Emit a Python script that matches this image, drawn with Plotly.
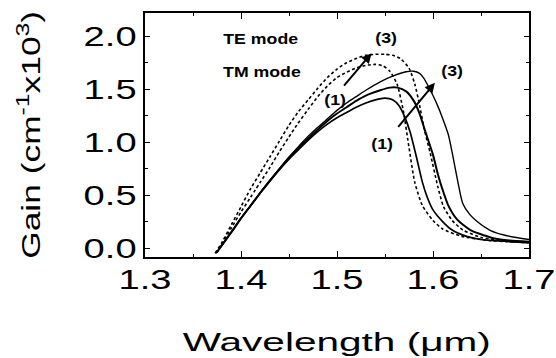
import plotly.graph_objects as go

# ---- data ----
# TE mode (dashed), curve (1) and (3)
te1_wl = [1.374, 1.38, 1.39, 1.40, 1.41, 1.415, 1.42, 1.43, 1.44, 1.45, 1.458, 1.47, 1.48, 1.49, 1.50,
          1.51, 1.52, 1.53, 1.54, 1.548, 1.555, 1.5625, 1.569, 1.575, 1.581, 1.589, 1.60, 1.61, 1.63,
          1.66, 1.70]
te1_gain = [-0.05, 0.04, 0.19, 0.34, 0.48, 0.55, 0.62, 0.76, 0.91, 1.05, 1.16, 1.31, 1.43, 1.53, 1.61,
            1.66, 1.70, 1.725, 1.735, 1.72, 1.67, 1.55, 1.30, 0.95, 0.62, 0.40, 0.26, 0.18, 0.11,
            0.07, 0.05]
te3_wl = [1.373, 1.38, 1.39, 1.40, 1.41, 1.42, 1.43, 1.44, 1.45, 1.46, 1.47, 1.48, 1.49, 1.50, 1.51,
          1.52, 1.53, 1.54, 1.55, 1.558, 1.566, 1.575, 1.581, 1.586, 1.591, 1.597, 1.605, 1.611, 1.62,
          1.631, 1.65, 1.67, 1.70]
te3_gain = [-0.05, 0.05, 0.22, 0.39, 0.56, 0.71, 0.86, 1.01, 1.16, 1.29, 1.40, 1.51, 1.61, 1.69, 1.75,
            1.79, 1.82, 1.83, 1.83, 1.82, 1.79, 1.70, 1.55, 1.35, 1.12, 0.90, 0.58, 0.39, 0.26,
            0.17, 0.10, 0.07, 0.05]

# TM mode (solid), curves (1), (2), (3)
tm1_wl = [1.375, 1.378, 1.39, 1.40, 1.41, 1.42, 1.43, 1.44, 1.45, 1.46, 1.47, 1.48, 1.49, 1.50, 1.51,
          1.52, 1.53, 1.54, 1.55, 1.558, 1.565, 1.57, 1.576, 1.583, 1.589, 1.594, 1.60, 1.61, 1.62,
          1.635, 1.65, 1.70]
tm1_gain = [-0.04, 0.0, 0.15, 0.28, 0.40, 0.52, 0.63, 0.74, 0.84, 0.93, 1.02, 1.10, 1.17, 1.23, 1.28,
            1.33, 1.37, 1.40, 1.415, 1.40, 1.34, 1.25, 1.10, 0.85, 0.62, 0.48, 0.36, 0.25, 0.17,
            0.11, 0.08, 0.05]
tm2_wl = [1.375, 1.378, 1.39, 1.40, 1.41, 1.42, 1.43, 1.44, 1.45, 1.46, 1.47, 1.48, 1.49, 1.50, 1.51,
          1.52, 1.53, 1.545, 1.555, 1.563, 1.572, 1.58, 1.586, 1.592, 1.60, 1.605, 1.61, 1.616, 1.625,
          1.639, 1.66, 1.68, 1.70]
tm2_gain = [-0.04, 0.0, 0.15, 0.28, 0.40, 0.52, 0.635, 0.745, 0.85, 0.945, 1.035, 1.12, 1.20, 1.27, 1.33,
            1.39, 1.44, 1.49, 1.515, 1.515, 1.48, 1.39, 1.27, 1.10, 0.88, 0.70, 0.55, 0.40, 0.27,
            0.17, 0.10, 0.07, 0.06]
tm3_wl = [1.375, 1.378, 1.39, 1.40, 1.41, 1.42, 1.43, 1.44, 1.45, 1.46, 1.47, 1.48, 1.49, 1.50, 1.51,
          1.52, 1.53, 1.545, 1.56, 1.572, 1.58, 1.586, 1.59, 1.595, 1.60, 1.605, 1.609, 1.616, 1.62,
          1.626, 1.631, 1.638, 1.646, 1.659, 1.675, 1.70]
tm3_gain = [-0.04, 0.0, 0.15, 0.28, 0.40, 0.52, 0.64, 0.75, 0.86, 0.96, 1.055, 1.14, 1.22, 1.30, 1.37,
            1.43, 1.49, 1.57, 1.63, 1.665, 1.67, 1.65, 1.61, 1.53, 1.44, 1.34, 1.25, 1.07, 0.90,
            0.62, 0.42, 0.32, 0.25, 0.17, 0.12, 0.08]

x_ticks = [1.3, 1.4, 1.5, 1.6, 1.7]
y_ticks = [0.0, 0.5, 1.0, 1.5, 2.0]

FONT = "Liberation Sans, Arial, Helvetica, sans-serif"

fig = go.Figure()

def add_curve(x, y, dashed, width):
    fig.add_trace(go.Scatter(
        x=x, y=y, mode="lines",
        line=dict(color="black", width=width, shape="spline", smoothing=0.6,
                  dash="3px,2.5px" if dashed else "solid"),
        showlegend=False, hoverinfo="skip"))

add_curve(te1_wl, te1_gain, True, 1.6)
add_curve(te3_wl, te3_gain, True, 1.6)
add_curve(tm1_wl, tm1_gain, False, 1.7)
add_curve(tm2_wl, tm2_gain, False, 2.0)
add_curve(tm3_wl, tm3_gain, False, 1.4)

fig.update_xaxes(
    range=[1.3, 1.7], tickmode="array", tickvals=x_ticks,
    ticktext=[f"{v:.1f}" for v in x_ticks],
    ticks="inside", ticklen=6, tickwidth=1.3, tickcolor="black",
    minor=dict(dtick=0.05, tick0=1.3, ticks="inside", ticklen=3, tickwidth=1, tickcolor="black"),
    showline=True, linecolor="black", linewidth=1.6, mirror="ticks",
    showgrid=False, zeroline=False,
    tickfont=dict(family=FONT, size=28, color="black"), ticklabelstandoff=-3,
)
fig.update_yaxes(
    range=[-0.085, 2.22], tickmode="array", tickvals=y_ticks,
    ticktext=[f"{v:.1f}" for v in y_ticks],
    ticks="inside", ticklen=5, tickwidth=1.3, tickcolor="black",
    minor=dict(dtick=0.25, tick0=0, ticks="inside", ticklen=3, tickwidth=1, tickcolor="black"),
    showline=True, linecolor="black", linewidth=1.6, mirror="ticks",
    showgrid=False, zeroline=False,
    tickfont=dict(family=FONT, size=28, color="black"), ticklabelstandoff=1,
)

ann = []
# axis titles
ann.append(dict(text="Wavelength (\u03bcm)", xref="paper", yref="paper", x=0.5, y=-0.348,
                xanchor="center", yanchor="middle", showarrow=False,
                font=dict(family=FONT, size=26, color="black")))
ann.append(dict(text="Gain (cm<sup>-1</sup>x10<sup>3</sup>)", xref="paper", yref="paper",
                x=-0.302, y=0.5, xanchor="center", yanchor="middle", textangle=-90,
                showarrow=False, font=dict(family=FONT, size=26, color="black")))
# legend-like labels
for txt, x, y in [("TE mode", 1.4198, 1.98), ("TM mode", 1.4219, 1.67),
                  ("(3)", 1.551, 1.99), ("(1)", 1.498, 1.40),
                  ("(3)", 1.620, 1.68), ("(1)", 1.547, 0.99)]:
    ann.append(dict(text=f"<b>{txt}</b>", x=x, y=y, xref="x", yref="y",
                    xanchor="center", yanchor="middle", showarrow=False,
                    font=dict(family=FONT, size=15, color="black")))
# arrows (1) -> (3)
for (x0, y0, x1, y1) in [(1.506, 1.52, 1.536, 1.84), (1.5625, 1.13, 1.602, 1.56)]:
    ann.append(dict(x=x1, y=y1, ax=x0, ay=y0, xref="x", yref="y", axref="x", ayref="y",
                    text="", showarrow=True, arrowhead=2, arrowsize=1, arrowwidth=2,
                    arrowcolor="black", standoff=0, startstandoff=0))

fig.update_layout(
    width=556, height=358,
    margin=dict(l=145, r=27, t=13, b=101, autoexpand=False),
    paper_bgcolor="white", plot_bgcolor="white",
    annotations=ann, showlegend=False,
)

post = """
(function(){
  var gd = document.getElementById('{plot_id}');
  function stretch(){
    gd.querySelectorAll('text').forEach(function(t){
      if (t.getAttribute('data-stretched')) return;
      var fs = parseFloat(window.getComputedStyle(t).fontSize) || 12;
      var f = fs >= 24 ? 1.36 : 1.18;
      if ((t.textContent || '').indexOf('Wavelength') >= 0) f = 1.56;
      var L = t.getComputedTextLength();
      if (!L) return;
      t.setAttribute('textLength', (L * f).toFixed(2));
      t.setAttribute('lengthAdjust', 'spacingAndGlyphs');
      t.setAttribute('data-stretched', '1');
    });
  }
  stretch();
  setTimeout(stretch, 50);
})();
"""

fig.write_html("out.html", post_script=post)
